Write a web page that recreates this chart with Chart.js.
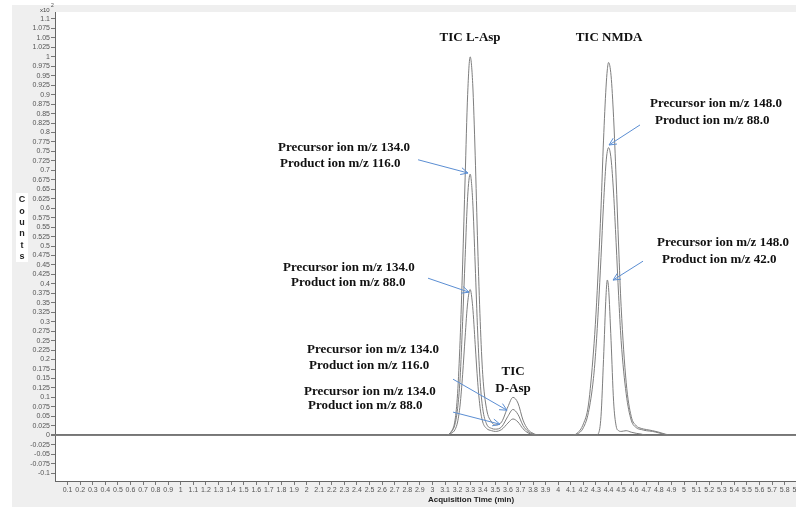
<!DOCTYPE html>
<html>
<head>
<meta charset="utf-8">
<script src="https://cdn.jsdelivr.net/npm/chart.js@4.4.1/dist/chart.umd.min.js"></script>
<style>
  html, body { margin: 0; padding: 0; background: #fff; }
  #wrap { width: 796px; height: 508px; }
</style>
</head>
<body>
<div id="wrap"><canvas id="myChart" width="796" height="508"></canvas></div>
<script>
// acquisition time (min) and counts (x10^2)
const aspTimes = [0, 3.10, 3.15, 3.18, 3.20, 3.22, 3.24, 3.26, 3.28, 3.30, 3.32, 3.34, 3.36, 3.38, 3.40, 3.43, 3.47, 3.50, 3.55, 3.60, 3.64, 3.68, 3.72, 3.76, 3.80, 3.85, 5.9];
const aspTic   = [0, 0, 0.01, 0.04, 0.11, 0.25, 0.45, 0.68, 0.90, 1.00, 0.93, 0.74, 0.50, 0.30, 0.16, 0.07, 0.035, 0.027, 0.035, 0.075, 0.100, 0.085, 0.04, 0.015, 0.005, 0, 0];
const asp116   = [0, 0, 0.008, 0.03, 0.07, 0.15, 0.30, 0.47, 0.63, 0.69, 0.62, 0.45, 0.27, 0.14, 0.07, 0.03, 0.018, 0.016, 0.022, 0.050, 0.068, 0.055, 0.026, 0.01, 0.003, 0, 0];
const asp88    = [0, 0, 0.005, 0.015, 0.035, 0.08, 0.16, 0.26, 0.35, 0.385, 0.34, 0.24, 0.14, 0.07, 0.035, 0.018, 0.012, 0.010, 0.015, 0.032, 0.043, 0.035, 0.017, 0.006, 0.002, 0, 0];

const nmdaTimes = [0, 4.10, 4.15, 4.20, 4.24, 4.28, 4.30, 4.32, 4.34, 4.36, 4.38, 4.39, 4.40, 4.42, 4.44, 4.46, 4.48, 4.50, 4.54, 4.58, 4.62, 4.66, 4.70, 4.75, 4.80, 4.85, 4.90, 5.9];
const nmdaTic   = [0, 0, 0.005, 0.03, 0.08, 0.22, 0.32, 0.45, 0.60, 0.78, 0.92, 0.965, 0.985, 0.95, 0.84, 0.68, 0.50, 0.34, 0.14, 0.05, 0.025, 0.018, 0.015, 0.012, 0.008, 0.003, 0, 0];
const nmda88    = [0, 0, 0.003, 0.02, 0.06, 0.15, 0.23, 0.34, 0.47, 0.61, 0.72, 0.75, 0.76, 0.73, 0.64, 0.51, 0.37, 0.25, 0.11, 0.04, 0.02, 0.015, 0.012, 0.01, 0.006, 0.002, 0, 0];
const nmda42    = [0, 0, 0, 0, 0, 0, 0, 0.005, 0.05, 0.20, 0.37, 0.41, 0.39, 0.25, 0.09, 0.025, 0.012, 0.01, 0.012, 0.008, 0.005, 0.003, 0, 0, 0, 0, 0, 0];

const xTicks = [0.1, 0.2, 0.3, 0.4, 0.5, 0.6, 0.7, 0.8, 0.9, 1, 1.1, 1.2, 1.3, 1.4, 1.5, 1.6, 1.7, 1.8, 1.9, 2,
  2.1, 2.2, 2.3, 2.4, 2.5, 2.6, 2.7, 2.8, 2.9, 3, 3.1, 3.2, 3.3, 3.4, 3.5, 3.6, 3.7, 3.8, 3.9, 4,
  4.1, 4.2, 4.3, 4.4, 4.5, 4.6, 4.7, 4.8, 4.9, 5, 5.1, 5.2, 5.3, 5.4, 5.5, 5.6, 5.7, 5.8, 5.9];
const yTicks = [-0.1, -0.075, -0.05, -0.025, 0, 0.025, 0.05, 0.075, 0.1, 0.125, 0.15, 0.175, 0.2, 0.225, 0.25,
  0.275, 0.3, 0.325, 0.35, 0.375, 0.4, 0.425, 0.45, 0.475, 0.5, 0.525, 0.55, 0.575, 0.6, 0.625, 0.65,
  0.675, 0.7, 0.725, 0.75, 0.775, 0.8, 0.825, 0.85, 0.875, 0.9, 0.925, 0.95, 0.975, 1, 1.025, 1.05, 1.075, 1.1];

// labels: [text, time, counts] ; arrows: [fromTime, fromCounts, toTime, toCounts]
const peakTitles = [
  ["TIC L-Asp", 3.299, 1.050],
  ["TIC NMDA", 4.404, 1.050],
  ["TIC", 3.641, 0.167],
  ["D-Asp", 3.641, 0.122],
];
const ionLabels = [
  ["Precursor ion m/z 134.0", 1.773, 0.759], ["Product ion m/z 116.0", 1.789, 0.717],
  ["Precursor ion m/z 134.0", 1.812, 0.444], ["Product ion m/z 88.0", 1.876, 0.402],
  ["Precursor ion m/z 134.0", 2.003, 0.225], ["Product ion m/z 116.0", 2.019, 0.183],
  ["Precursor ion m/z 134.0", 1.979, 0.116], ["Product ion m/z 88.0", 2.011, 0.079],
  ["Precursor ion m/z 148.0", 4.730, 0.876], ["Product ion m/z 88.0", 4.769, 0.831],
  ["Precursor ion m/z 148.0", 4.785, 0.508], ["Product ion m/z 42.0", 4.825, 0.463],
];
const arrows = [
  [2.886, 0.728, 3.283, 0.693],
  [2.965, 0.415, 3.291, 0.378],
  [3.164, 0.148, 3.593, 0.066],
  [3.164, 0.061, 3.537, 0.029],
  [4.650, 0.820, 4.404, 0.767],
  [4.674, 0.460, 4.436, 0.410],
];

function pts(times, vals) {
  return times.map((t, i) => ({ x: t, y: vals[i] }));
}
function fmt(v) {
  return String(Number(v.toFixed(3)));
}

const traceStyle = {
  borderColor: "#7e7e7e",
  borderWidth: 1,
  pointRadius: 0,
  fill: false,
  cubicInterpolationMode: "monotone",
};

const data = {
  datasets: [
    { label: "TIC Asp", data: pts(aspTimes, aspTic), ...traceStyle },
    { label: "134.0 -> 116.0", data: pts(aspTimes, asp116), ...traceStyle },
    { label: "134.0 -> 88.0", data: pts(aspTimes, asp88), ...traceStyle },
    { label: "TIC NMDA", data: pts(nmdaTimes, nmdaTic), ...traceStyle },
    { label: "148.0 -> 88.0", data: pts(nmdaTimes, nmda88), ...traceStyle },
    { label: "148.0 -> 42.0", data: pts(nmdaTimes, nmda42), ...traceStyle },
  ],
};

const frame = {
  id: "frame",
  beforeDraw(chart) {
    const c = chart.ctx, a = chart.chartArea;
    c.save();
    c.fillStyle = "#ffffff";
    c.fillRect(0, 0, chart.width, chart.height);
    c.fillStyle = "#efefef";
    c.fillRect(12, 5, chart.width - 12, 502);
    c.fillStyle = "#ffffff";
    c.fillRect(a.left, a.top, a.right - a.left, a.bottom - a.top);
    c.restore();
  },
  afterDraw(chart) {
    const c = chart.ctx, xs = chart.scales.x, ys = chart.scales.y;
    c.save();
    // Counts label
    c.fillStyle = "#ffffff";
    c.fillRect(16, 193, 12, 69);
    c.fillStyle = "#222";
    c.font = "bold 9px 'Liberation Sans', Arial, sans-serif";
    c.textAlign = "center";
    c.textBaseline = "middle";
    "Counts".split("").forEach((ch, i) => c.fillText(ch, 22, 200 + i * 11.3));
    // x10^2
    c.fillStyle = "#444";
    c.font = "6px 'Liberation Sans', Arial, sans-serif";
    c.textAlign = "left";
    c.fillText("x10", 40, 10);
    c.font = "5px 'Liberation Sans', Arial, sans-serif";
    c.fillText("2", 51, 6);
    // axis title
    c.font = "bold 8px 'Liberation Sans', Arial, sans-serif";
    c.fillStyle = "#222";
    c.textAlign = "center";
    c.fillText("Acquisition Time (min)", 471, 500);

    // annotations
    c.fillStyle = "#111";
    c.font = "bold 13px 'Liberation Serif', 'Times New Roman', serif";
    c.textBaseline = "middle";
    c.textAlign = "center";
    peakTitles.forEach(([t, x, y]) => c.fillText(t, xs.getPixelForValue(x), ys.getPixelForValue(y)));
    c.textAlign = "left";
    ionLabels.forEach(([t, x, y]) => c.fillText(t, xs.getPixelForValue(x), ys.getPixelForValue(y)));

    c.strokeStyle = "#5b8ed3";
    c.lineWidth = 1;
    arrows.forEach(([x1, y1, x2, y2]) => {
      const ax = xs.getPixelForValue(x1), ay = ys.getPixelForValue(y1);
      const bx = xs.getPixelForValue(x2), by = ys.getPixelForValue(y2);
      const ang = Math.atan2(by - ay, bx - ax);
      c.beginPath();
      c.moveTo(ax, ay);
      c.lineTo(bx, by);
      c.moveTo(bx - 8 * Math.cos(ang - 0.45), by - 8 * Math.sin(ang - 0.45));
      c.lineTo(bx, by);
      c.lineTo(bx - 8 * Math.cos(ang + 0.45), by - 8 * Math.sin(ang + 0.45));
      c.stroke();
    });
    c.restore();
  },
};

const tickFont = { family: "'Liberation Sans Narrow', 'Liberation Sans', Arial, sans-serif", size: 7 };

const config = {
  type: "line",
  data: data,
  options: {
    responsive: false,
    animation: false,
    layout: { padding: { top: 12, right: 0, bottom: 0, left: 0 } },
    plugins: { legend: { display: false }, tooltip: { enabled: false } },
    scales: {
      x: {
        type: "linear",
        min: 0,
        max: 5.89,
        afterBuildTicks: (s) => { s.ticks = xTicks.map((v) => ({ value: v })); },
        afterFit: (s) => { s.height = 27; s.paddingLeft = 0; s.paddingRight = 0; },
        ticks: { autoSkip: false, maxRotation: 0, minRotation: 0, padding: 1, color: "#555", font: tickFont, callback: (v) => fmt(v) },
        grid: { drawOnChartArea: false, tickLength: 4, color: "#777" },
        border: { color: "#666" },
      },
      y: {
        min: -0.121,
        max: 1.1185,
        afterBuildTicks: (s) => { s.ticks = yTicks.map((v) => ({ value: v })); },
        afterFit: (s) => { s.width = 55; },
        ticks: { autoSkip: false, padding: 1, color: "#555", font: tickFont, callback: (v) => fmt(v) },
        grid: {
          drawOnChartArea: true,
          tickLength: 4,
          tickColor: "#777",
          color: (ctx) => (ctx.tick && ctx.tick.value === 0 ? "#444" : "rgba(0,0,0,0)"),
          lineWidth: (ctx) => (ctx.tick && ctx.tick.value === 0 ? 2 : 1),
        },
        border: { color: "#666" },
      },
    },
  },
  plugins: [frame],
};

const myChart = new Chart(document.getElementById("myChart"), config);
</script>
</body>
</html>
